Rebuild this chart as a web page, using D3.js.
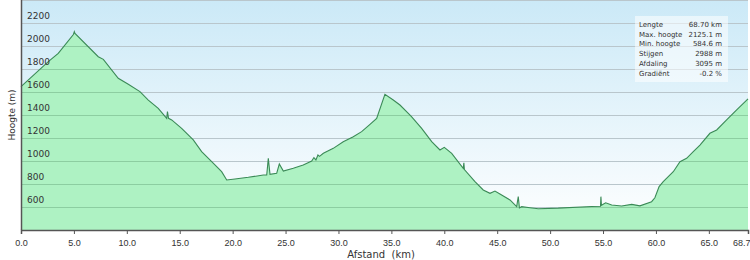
<!DOCTYPE html>
<html>
<head>
<meta charset="utf-8">
<script src="https://cdn.jsdelivr.net/npm/d3@7"></script>
<style>
body { margin: 0; background: #fff; }
svg { display: block; font-family: "DejaVu Sans", Verdana, sans-serif; }
</style>
</head>
<body>
<svg width="750" height="260"></svg>
<script>
var svg = d3.select("svg");

// afstand (km) en hoogte (m)
var afstand = [0.0, 2.58, 3.52, 4.95, 5.04, 5.1, 7.30, 7.78, 9.19, 10.14, 11.24, 12.03, 12.97, 13.77, 13.84, 13.94,
  14.24, 15.18, 16.28, 17.07, 18.02, 18.96, 19.44, 20.22, 21.48, 22.90, 23.22, 23.37, 23.53, 24.16, 24.41,
  24.79, 25.73, 26.67, 27.47, 27.68, 27.87, 28.06, 28.21, 28.57, 29.51, 30.45, 31.40, 32.19, 32.98, 33.61,
  34.39, 35.18, 35.81, 36.60, 36.90, 37.86, 38.81, 39.59, 40.00, 40.70, 41.79, 41.85, 41.9, 42.90, 43.68,
  44.32, 44.79, 45.42, 46.21, 46.84, 46.99, 47.1, 47.31, 48.10, 48.88, 50.77, 53.93, 54.76, 54.80, 54.85,
  55.25, 55.82, 56.76, 57.71, 58.49, 59.59, 59.9, 60.3, 60.69, 61.64, 62.27, 62.90, 63.53, 64.16, 65.10,
  65.74, 66.68, 67.63, 68.70];
var hoogte = [1646, 1864, 1936, 2100, 2125, 2110, 1907, 1884, 1719, 1667, 1603, 1530, 1458, 1371, 1429, 1371,
  1357, 1284, 1183, 1081, 994, 907, 835, 843, 858, 878, 878, 1023, 884, 893, 974,
  913, 937, 965, 1000, 1030, 1010, 1052, 1040, 1067, 1110, 1168, 1211, 1255, 1319, 1371,
  1580, 1530, 1487, 1415, 1385, 1284, 1168, 1096, 1119, 1067, 937, 985, 925, 820, 748,
  719, 739, 704, 661, 603, 690, 592, 603, 594, 585, 590, 605, 607, 690, 615,
  637, 617, 609, 623, 610, 646, 680, 777, 820, 907, 994, 1023, 1081, 1139, 1241,
  1270, 1357, 1444, 1540];

var yTicks = [600, 800, 1000, 1200, 1400, 1600, 1800, 2000, 2200];
var xTicks = [0, 5, 10, 15, 20, 25, 30, 35, 40, 45, 50, 55, 60, 65, 68.7];

var statLabels = ["Lengte", "Max. hoogte", "Min. hoogte", "Stijgen", "Afdaling", "Gradiënt"];
var statValues = ["68.70 km", "2125.1 m", "584.6 m", "2988 m", "3095 m", "-0.2 %"];

var data = afstand.map(function(d, i) { return {km: d, h: hoogte[i]}; });

var pLeft = 21, pRight = 748, pTop = 0, pBottom = 230;
var x = d3.scaleLinear().domain([0, 68.7]).range([pLeft, pRight]);
var y = d3.scaleLinear().domain([400, 2400]).range([pBottom, pTop]);

// achtergrond met verloop
var defs = svg.append("defs");
var grad = defs.append("linearGradient").attr("id", "bg").attr("x1", 0).attr("y1", 0).attr("x2", 0).attr("y2", 1);
grad.append("stop").attr("offset", "0%").attr("stop-color", "#cbe9f7");
grad.append("stop").attr("offset", "100%").attr("stop-color", "#ffffff");

svg.append("rect")
  .attr("x", pLeft).attr("y", pTop)
  .attr("width", pRight - pLeft).attr("height", pBottom - pTop)
  .attr("fill", "url(#bg)");

// rasterlijnen
svg.selectAll(".grid")
  .data(yTicks.concat([2400]))
  .enter().append("line")
    .attr("class", "grid")
    .attr("x1", pLeft).attr("x2", pRight)
    .attr("y1", function(d) { return y(d) + 0.5; })
    .attr("y2", function(d) { return y(d) + 0.5; })
    .style("stroke", "#b9c6cc")
    .style("stroke-width", "1.2px");

// hoogteprofiel
var area = d3.area()
  .x(function(d) { return x(d.km); })
  .y0(pBottom)
  .y1(function(d) { return y(d.h); });

defs.append("clipPath").attr("id", "profiel")
  .append("path").datum(data).attr("d", area);

svg.append("path")
  .datum(data)
  .attr("d", area)
  .attr("fill", "#aef2c3");

// rasterlijnen schemeren door de vulling heen
svg.append("g")
  .attr("clip-path", "url(#profiel)")
  .selectAll(".grid2")
  .data(yTicks)
  .enter().append("line")
    .attr("class", "grid2")
    .attr("x1", pLeft).attr("x2", pRight)
    .attr("y1", function(d) { return y(d) + 0.5; })
    .attr("y2", function(d) { return y(d) + 0.5; })
    .style("stroke", "#7fbf93")
    .style("stroke-width", "1.2px")
    .style("opacity", 0.7);

var line = d3.line()
  .x(function(d) { return x(d.km); })
  .y(function(d) { return y(d.h); });

svg.append("path")
  .datum(data)
  .attr("d", line)
  .attr("fill", "none")
  .attr("stroke", "#3b8a57")
  .attr("stroke-width", 1.1);

// assen
var xAxis = d3.axisBottom(x)
  .tickValues(xTicks)
  .tickSize(4)
  .tickFormat(d3.format(".1f"));

var gx = svg.append("g")
  .attr("transform", "translate(0," + pBottom + ")")
  .call(xAxis);
gx.select(".domain").attr("stroke", "#555").attr("stroke-width", 1.5);
gx.selectAll(".tick line").attr("stroke", "#555");
gx.selectAll("text").attr("fill", "#333").style("font-size", "9px").attr("dy", "0.95em");
gx.selectAll("text").filter(function(d) { return d === 68.7; }).attr("text-anchor", "end").attr("x", 2);

svg.append("line")
  .attr("x1", pLeft + 0.5).attr("x2", pLeft + 0.5)
  .attr("y1", pTop).attr("y2", pBottom)
  .attr("stroke", "#555").attr("stroke-width", 1.5);

svg.selectAll(".ylab")
  .data(yTicks)
  .enter().append("text")
    .attr("class", "ylab")
    .attr("x", pLeft + 6)
    .attr("y", function(d) { return y(d) - 4; })
    .text(function(d) { return d; })
    .style("font-size", "9px")
    .style("fill", "#333");

svg.append("text")
  .attr("transform", "translate(15,115) rotate(-90)")
  .attr("text-anchor", "middle")
  .style("font-size", "9px")
  .style("fill", "#333")
  .text("Hoogte (m)");

svg.append("text")
  .attr("x", 381).attr("y", 258)
  .attr("text-anchor", "middle")
  .style("font-size", "10px")
  .style("fill", "#333")
  .style("white-space", "pre")
  .text("Afstand  (km)");

// statistiekblok
svg.append("rect")
  .attr("x", 635).attr("y", 16)
  .attr("width", 93).attr("height", 66)
  .attr("fill", "#fff").attr("fill-opacity", 0.55);

svg.selectAll(".slab")
  .data(statLabels)
  .enter().append("text")
    .attr("class", "slab")
    .attr("x", 639)
    .attr("y", function(d, i) { return 27 + i * 9.7; })
    .text(function(d) { return d; })
    .style("font-size", "7px")
    .style("fill", "#333");

svg.selectAll(".sval")
  .data(statValues)
  .enter().append("text")
    .attr("class", "sval")
    .attr("x", 722)
    .attr("y", function(d, i) { return 27 + i * 9.7; })
    .attr("text-anchor", "end")
    .text(function(d) { return d; })
    .style("font-size", "7px")
    .style("fill", "#333");
</script>
</body>
</html>
